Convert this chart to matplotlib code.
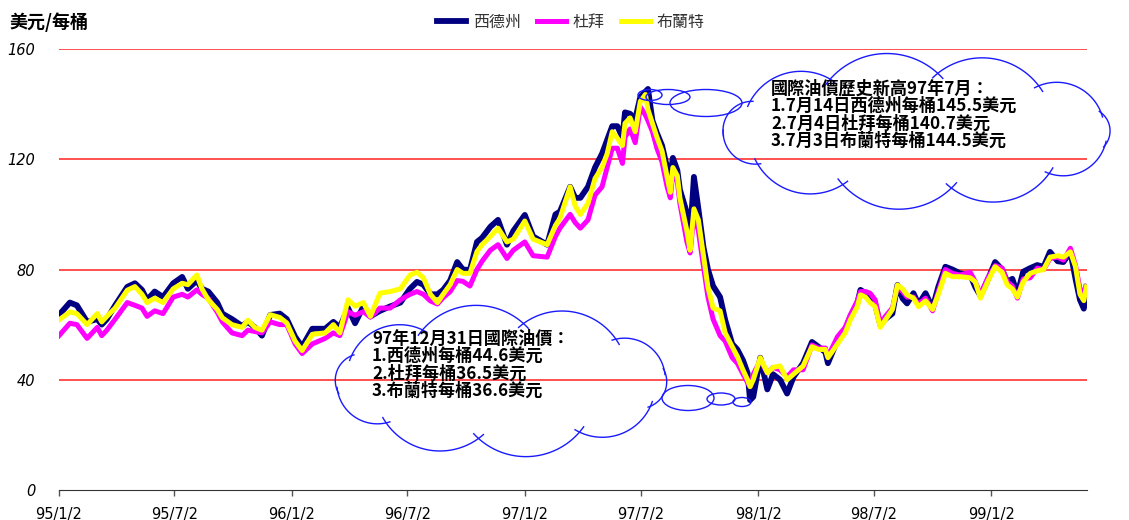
import numpy as np
import pandas as pd
import matplotlib
matplotlib.use("Agg")
import matplotlib.pyplot as plt
from matplotlib.patches import Ellipse

cjk = ['Noto Sans CJK TC', 'DejaVu Sans']

dates = [
    "2006-01-02", "2006-01-19", "2006-01-30", "2006-02-15", "2006-03-03", "2006-03-10", "2006-03-18", "2006-03-31",
    "2006-04-19", "2006-05-01", "2006-05-12", "2006-05-20", "2006-06-01", "2006-06-14", "2006-06-30", "2006-07-14",
    "2006-07-23", "2006-08-06", "2006-08-14", "2006-08-24", "2006-09-07", "2006-09-15", "2006-09-30", "2006-10-16",
    "2006-10-25", "2006-11-05", "2006-11-16", "2006-11-29", "2006-12-14", "2006-12-25",
    "2007-01-07", "2007-01-18", "2007-02-03", "2007-02-23", "2007-03-08", "2007-03-18", "2007-03-31", "2007-04-11",
    "2007-04-24", "2007-05-05", "2007-05-20", "2007-06-05", "2007-06-21", "2007-07-06", "2007-07-17", "2007-07-27",
    "2007-08-07", "2007-08-18", "2007-08-27", "2007-09-07", "2007-09-18", "2007-09-27", "2007-10-08", "2007-10-19",
    "2007-10-27", "2007-11-09", "2007-11-21", "2007-12-05", "2007-12-15",
    "2008-01-02", "2008-01-15", "2008-02-06", "2008-02-19", "2008-02-26", "2008-03-13", "2008-03-21", "2008-03-29",
    "2008-04-10", "2008-04-21", "2008-05-02", "2008-05-10", "2008-05-18", "2008-05-26", "2008-06-03", "2008-06-07",
    "2008-06-15", "2008-06-23", "2008-07-01", "2008-07-09", "2008-07-13", "2008-07-20", "2008-07-27", "2008-08-04",
    "2008-08-12", "2008-08-17", "2008-08-21", "2008-08-28", "2008-09-01", "2008-09-12", "2008-09-17", "2008-09-23",
    "2008-09-30", "2008-10-08", "2008-10-15", "2008-10-23", "2008-11-03", "2008-11-11", "2008-11-22", "2008-11-30",
    "2008-12-09", "2008-12-16", "2008-12-20", "2008-12-25",
    "2009-01-05", "2009-01-16", "2009-01-25", "2009-02-05", "2009-02-16", "2009-02-26", "2009-03-13", "2009-03-27",
    "2009-04-06", "2009-04-17", "2009-04-21", "2009-05-06", "2009-05-18", "2009-05-26", "2009-06-06", "2009-06-11",
    "2009-06-19", "2009-06-26", "2009-07-04", "2009-07-12", "2009-07-20", "2009-07-31", "2009-08-08", "2009-08-16",
    "2009-08-23", "2009-09-02", "2009-09-10", "2009-09-21", "2009-10-02", "2009-10-11", "2009-10-22", "2009-11-02",
    "2009-11-14", "2009-11-30", "2009-12-08", "2009-12-16", "2009-12-27",
    "2010-01-08", "2010-01-19", "2010-01-27", "2010-02-04", "2010-02-12", "2010-02-21", "2010-03-04", "2010-03-15",
    "2010-03-25", "2010-04-04", "2010-04-16", "2010-04-25", "2010-05-06", "2010-05-14", "2010-05-21", "2010-05-27",
    "2010-05-31"]

wti = [
    63.5, 68, 67, 61, 62, 60, 62, 67, 73.7, 75, 72.6, 69, 72, 70, 75, 77.3,
    73, 76, 73, 72, 68, 64, 62, 59.5, 61, 59, 56, 63.5, 64, 62,
    55.6, 52, 58.5, 58.5, 61, 59, 66, 60.5, 66.6, 63, 65, 66.6, 68, 73, 75.5, 74.5,
    71, 71, 72.6, 76, 82.7, 80, 79.8, 90, 91.5, 95.5, 98, 89, 94,
    99.8, 92, 89, 100, 101, 110, 106, 106, 110, 117, 122, 127, 132, 132, 128, 137,
    136.5, 134.5, 142.6, 144.5, 145.5, 134, 129.5, 125, 117, 114, 120.5, 116, 109, 100.5, 92, 113.6,
    102, 88, 80, 74, 70, 61.7, 53, 51, 47, 42.5, 32.6, 33.8,
    48, 36.5, 42, 40, 35, 41, 46, 53.7, 52, 50, 46, 54.4, 58, 62.8, 67.7, 72.6,
    71.4, 68.6, 67.4, 60, 62, 64, 74.4, 69.5, 67.7, 71.4, 67.4, 71.4, 66, 73.7, 81, 80,
    78.6, 78, 73.6, 70.5, 76,
    82.7, 80, 75.5, 76.6, 71, 79.2, 80.5, 81.6, 81, 86.4, 83, 82.7, 86.4, 76.6, 69, 65.8,
    73.7]

dubai = [
    56, 60.5, 60, 55, 59, 56, 58, 62, 68, 67, 66, 63, 65, 64, 70, 71,
    70, 72.6, 71, 69.5, 64.5, 61, 57, 56, 58, 57.5, 57, 61, 60, 60,
    53, 49.5, 53, 55, 57, 56, 64.7, 63.4, 64.7, 62.7, 66, 66, 69, 71, 72, 71,
    68.6, 67.5, 69.8, 72, 76, 75.7, 74, 80, 83, 87, 89, 84, 87,
    90, 85, 84.5, 92, 95, 100, 97, 95, 98, 107, 110, 117, 124, 124, 118.5, 128,
    131, 126, 139, 136, 134, 130, 124, 119, 110, 106, 115, 112, 104, 90, 86, 100,
    94, 81, 70, 62, 56, 54, 48, 46, 42, 39, 37.5, 42,
    47, 42.5, 44.5, 43.6, 41, 43.6, 43.6, 52.6, 51.5, 51.5, 48.4, 55.6, 59, 63.5, 68.6, 72,
    72, 71.4, 69, 60.4, 63, 66, 73.8, 72, 70, 70, 67.4, 69.6, 65, 72, 80, 78.6,
    78, 79, 75.5, 70.8, 76.7,
    81.4, 80.5, 75.5, 74, 69.6, 76.6, 77, 80.5, 80, 84, 84.5, 83.4, 87.7, 81.4, 73, 72,
    73.7]

brent = [
    61.7, 64.6, 64, 60, 64, 61, 63, 66, 72.5, 73.8, 71, 68, 69.6, 68, 73, 75,
    74.5, 78, 73, 69, 65.5, 62.5, 60, 59, 61.6, 59, 58, 63.6, 62.6, 60.6,
    54, 50.6, 56.5, 57, 60, 57, 69, 66.7, 68, 63, 71.4, 72, 73, 78, 79, 77,
    71, 68, 71, 74.5, 80, 78.6, 78.6, 86.5, 89, 92, 95, 90, 91,
    97.6, 91, 89, 96, 98.5, 110, 103, 100, 104, 113, 117, 122, 130, 127.6, 125, 133,
    135, 130, 141, 143.5, 138, 133, 128, 123, 113.6, 108, 117, 114, 106, 94, 87, 102,
    98, 85, 73.6, 66, 65, 57, 52, 48.5, 43.5, 40, 37.5, 40,
    48, 42.5, 44.5, 45, 40, 42, 45, 52, 51, 51, 48, 53, 57, 61.7, 66.5, 70.8,
    70, 68, 66.5, 59, 61.7, 65.5, 74.4, 73, 70.8, 69.6, 66.5, 68.6, 65.5, 71, 78.6, 77.4,
    77.4, 77, 75.5, 69.6, 75.5,
    81, 79, 74.4, 73, 70, 75.5, 78.6, 79.5, 80, 84.5, 85, 84.5, 86.4, 81, 71, 68.7,
    73.7]

tick_dates = ["2006-01-02", "2006-07-02", "2007-01-02", "2007-07-02", "2008-01-02",
              "2008-07-02", "2009-01-02", "2009-07-02", "2010-01-02"]
tick_labels = ["95/1/2", "95/7/2", "96/1/2", "96/7/2", "97/1/2",
               "97/7/2", "98/1/2", "98/7/2", "99/1/2"]
yticks = [0, 40, 80, 120, 160]

note_peak = ["國際油價歷史新高97年7月：",
             "1.7月14日西德州每桶145.5美元",
             "2.7月4日杜拜每桶140.7美元",
             "3.7月3日布蘭特每桶144.5美元"]
note_end = ["97年12月31日國際油價：",
            "1.西德州每桶44.6美元",
            "2.杜拜每桶36.5美元",
            "3.布蘭特每桶36.6美元"]

x = pd.to_datetime(dates)

fig = plt.figure(figsize=(11.29, 5.2), dpi=100)
ax = fig.add_axes([59 / 1129, 1 - 490 / 520, (1087 - 59) / 1129, 441 / 520])

ax.plot(x, wti, color='#000080', lw=4.2, label='西德州', zorder=3, solid_joinstyle='round')
ax.plot(x, dubai, color='#ff00ff', lw=3.6, label='杜拜', zorder=4, solid_joinstyle='round')
ax.plot(x, brent, color='#ffff00', lw=3.6, label='布蘭特', zorder=5, solid_joinstyle='round')

ax.set_ylim(0, 160)
ax.set_xlim(pd.Timestamp("2006-01-02"), pd.Timestamp("2010-06-01"))
ax.set_yticks(yticks)
ax.set_yticklabels([str(v) for v in yticks], fontstyle='italic', fontsize=10.5)
ax.tick_params(axis='y', length=0, pad=17)
for v in yticks[1:]:
    ax.axhline(v, color='#ff2020', lw=1.1, zorder=1)

ax.set_xticks(pd.to_datetime(tick_dates))
ax.set_xticklabels(tick_labels, fontsize=10.5)
ax.tick_params(axis='x', length=4, width=1, pad=8, color='#555555')

for s in ['left', 'right', 'top']:
    ax.spines[s].set_visible(False)
ax.spines['bottom'].set_color('#333333')

fig.text(10 / 1129, 1 - 22 / 520, '美元/每桶', family=cjk, fontsize=13, weight='bold', va='center')
leg = fig.legend(loc='center', bbox_to_anchor=(571 / 1129, 1 - 22 / 520), ncol=3, frameon=False,
                 prop={'family': cjk, 'size': 11.5}, handlelength=1.8, handletextpad=0.45,
                 columnspacing=1.0)
for t in leg.get_texts():
    t.set_color('#333333')

# overlay in pixel coordinates for the cloud callouts
ov = fig.add_axes([0, 0, 1, 1], facecolor='none')
ov.set_xlim(0, 1129)
ov.set_ylim(520, 0)
ov.axis('off')
ov.set_zorder(10)

blue = '#1a1aff'


def cloud(cx, cy, rx, ry, n, start, bulge):
    t = np.linspace(0, 2 * np.pi, n + 1) + start
    px = cx + rx * np.cos(t)
    py = cy + ry * np.sin(t)
    for i in range(n):
        p0 = np.array([px[i], py[i]])
        p1 = np.array([px[i + 1], py[i + 1]])
        m = (p0 + p1) / 2
        chord = p1 - p0
        nrm = np.array([chord[1], -chord[0]])
        nrm = nrm / np.hypot(*nrm)
        if np.dot(nrm, m - np.array([cx, cy])) < 0:
            nrm = -nrm
        L = np.hypot(*chord) / 2
        h = L * bulge
        k = (L * L - h * h) / (2 * h)
        c = m - nrm * k
        r = np.hypot(L, k)
        an = np.arctan2(nrm[1], nrm[0])
        th = np.arctan2(L, k) * 1.12
        a = np.linspace(an - th, an + th, 60)
        ov.plot(c[0] + r * np.cos(a), c[1] + r * np.sin(a), color=blue, lw=1)


cloud(917, 131, 194, 58, 11, 0.25, 0.42)
cloud(501, 381, 166, 58, 10, 0.45, 0.42)

for (ex, ey, ew, eh) in [(650, 95, 24, 11), (668, 97, 44, 15), (706, 103, 72, 27),
                         (688, 398, 52, 25), (721, 399, 28, 12), (742, 402, 18, 9)]:
    ov.add_patch(Ellipse((ex, ey), ew, eh, fill=False, edgecolor=blue, lw=1))

for i, line in enumerate(note_peak):
    ov.text(771, 89 + i * 17.2, line, family=cjk, fontsize=12.3, weight='bold', va='center')
for i, line in enumerate(note_end):
    ov.text(372, 339 + i * 17.2, line, family=cjk, fontsize=12.3, weight='bold', va='center')

fig.savefig('out.png', dpi=100)
